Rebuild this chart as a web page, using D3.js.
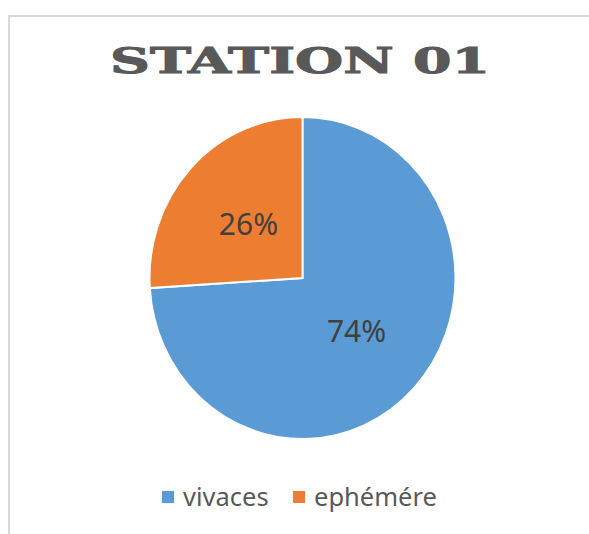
<!DOCTYPE html>
<html>
  <head>
    <meta charset="utf-8">
    <script src="https://d3js.org/d3.v7.min.js"></script>
    <title>Station 01</title>
    <style>
      body { margin: 0; background: #fff; }
      .title { font-family: 'DejaVu Serif', serif; font-weight: bold; fill: #595959; stroke: #595959; stroke-width: 1; }
      .pct { font-family: 'Noto Sans', sans-serif; font-size: 30px; fill: #404040; }
      .legend text { font-family: 'Noto Sans', sans-serif; font-size: 25.5px; fill: #595959; }
    </style>
  </head>
  <body>
    <svg width="589" height="534"></svg>
    <script>
      // data
      const categories = ['vivaces', 'ephémére'];
      const values = [74, 26];
      const labels = ['74%', '26%'];
      const colors = ['#5B9BD5', '#ED7D31'];

      const svg = d3.select('svg');

      // chart border (only top and left visible)
      svg.append('path')
        .attr('d', 'M9,534 L9,16 L589,16')
        .attr('fill', 'none')
        .attr('stroke', '#d9d9d9')
        .attr('stroke-width', 2);

      svg.append('text')
        .attr('class', 'title')
        .attr('x', 110)
        .attr('y', 73)
        .attr('font-size', 36)
        .attr('textLength', 380)
        .attr('lengthAdjust', 'spacingAndGlyphs')
        .text('STATION 01');

      const cx = 302.5, cy = 278, r = 161, sx = 0.95;

      const pie = d3.pie().sort(null);
      const arcs = pie(values);
      const arc = d3.arc().innerRadius(0).outerRadius(r);
      const labelArc = d3.arc().innerRadius(78).outerRadius(78);

      const g = svg.append('g')
        .attr('transform', `translate(${cx},${cy}) scale(${sx},1)`);

      g.selectAll('path').data(arcs)
        .enter().append('path')
          .attr('d', arc)
          .attr('fill', (d, i) => colors[i])
          .attr('stroke', '#fff')
          .attr('stroke-width', 2);

      svg.selectAll('text.pct').data(arcs)
        .enter().append('text')
          .attr('class', 'pct')
          .attr('x', d => cx + labelArc.centroid(d)[0] * sx)
          .attr('y', d => cy + labelArc.centroid(d)[1])
          .attr('dy', '0.36em')
          .attr('text-anchor', 'middle')
          .text((d, i) => labels[i]);

      // legend
      const legendX = [162, 293];
      const legend = svg.append('g').attr('class', 'legend');
      const item = legend.selectAll('g').data(categories)
        .enter().append('g')
          .attr('transform', (d, i) => `translate(${legendX[i]},491)`);
      item.append('rect')
        .attr('width', 12)
        .attr('height', 12)
        .attr('fill', (d, i) => colors[i]);
      item.append('text')
        .attr('x', 21)
        .attr('y', 15)
        .text(d => d);
    </script>
  </body>
</html>
